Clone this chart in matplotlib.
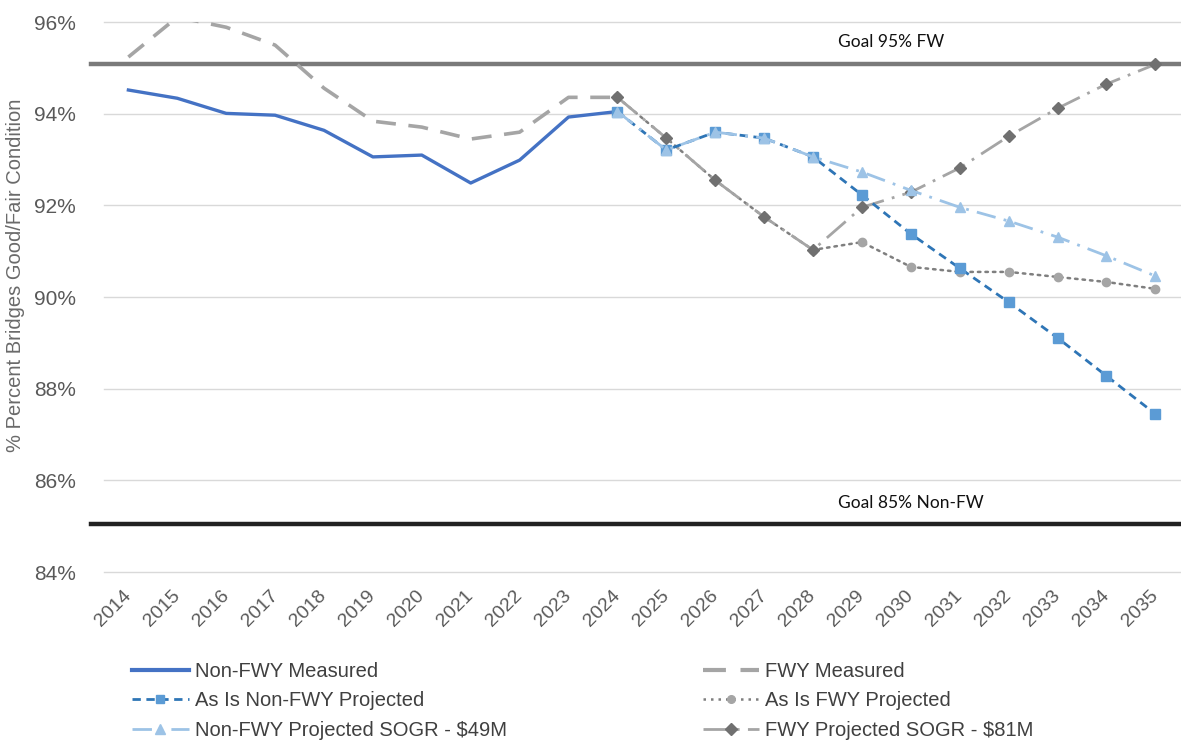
import matplotlib
matplotlib.use("Agg")
import matplotlib.pyplot as plt
from matplotlib.lines import Line2D
import numpy as np

years = [str(y) for y in range(2014, 2036)]
measured_years = years[:11]           # 2014 - 2024
proj_years = years[10:]               # 2024 - 2035

nonfwy_measured = [94.52, 94.34, 94.01, 93.97, 93.64, 93.06, 93.10, 92.49, 92.99, 93.93, 94.05]
fwy_measured = [95.24, 96.11, 95.89, 95.50, 94.56, 93.84, 93.71, 93.45, 93.60, 94.36, 94.36]

asis_nonfwy = [94.05, 93.21, 93.60, 93.47, 93.06, 92.23, 91.38, 90.63, 89.89, 89.11, 88.28, 87.45]
sogr_nonfwy = [94.05, 93.21, 93.60, 93.47, 93.06, 92.73, 92.33, 91.96, 91.66, 91.31, 90.90, 90.46]
asis_fwy = [94.36, 93.47, 92.55, 91.75, 91.03, 91.20, 90.66, 90.55, 90.55, 90.44, 90.33, 90.18]
sogr_fwy = [94.36, 93.47, 92.55, 91.75, 91.03, 91.96, 92.29, 92.82, 93.51, 94.12, 94.65, 95.08]

goal_fw = 95.08
goal_nonfw = 85.05
goal_labels = ["Goal 95% FW", "Goal 85% Non-FW"]

yticks = [84, 86, 88, 90, 92, 94, 96]

TICK_GREY = "#595959"
plt.rcParams["font.family"] = ["Liberation Sans", "DejaVu Sans"]

fig = plt.figure(figsize=(11.81, 7.40), dpi=100)
ax = fig.add_axes([0.088, 0.227, 0.911, 0.743])

xm = [years.index(y) for y in measured_years]
xp = [years.index(y) for y in proj_years]

'''
goal lines (drawn a bit past the left edge like the excel version)
'''
ax.axhline(goal_fw, xmin=-0.012, xmax=1, color="#7a7a7a", lw=3.2, clip_on=False, zorder=2)
ax.axhline(goal_nonfw, xmin=-0.012, xmax=1, color="#222222", lw=3.2, clip_on=False, zorder=2)

'''
measured
'''
ax.plot(xm, nonfwy_measured, "-", color="#4472C4", lw=2.4, zorder=5)
ax.plot(xm, fwy_measured, color="#A5A5A5", lw=2.6, ls=(0, (5.5, 3.5)), zorder=4)

'''
projections
'''
ax.plot(xp, asis_fwy, color="#7f7f7f", lw=1.8, ls=(0, (1, 2)), dash_capstyle="round",
        marker="o", ms=6, mfc="#A5A5A5", mec="#A5A5A5", zorder=5)
ax.plot(xp, sogr_fwy, color="#A5A5A5", lw=2.0, ls=(0, (9, 3, 1, 3)),
        marker="D", ms=6.5, mfc="#707070", mec="#707070", zorder=6)
ax.plot(xp, asis_nonfwy, color="#2E75B6", lw=2.0, ls=(0, (3, 2)),
        marker="s", ms=6.5, mfc="#5B9BD5", mec="#5B9BD5", zorder=7)
ax.plot(xp, sogr_nonfwy, color="#9DC3E6", lw=2.0, ls=(0, (7, 3, 1, 3)),
        marker="^", ms=7.5, mfc="#9DC3E6", mec="#9DC3E6", zorder=8)

ax.text(15.6, 95.56, goal_labels[0], ha="center", va="center", fontsize=12.5,
        family=["Lato", "DejaVu Sans"], color="#111111")
ax.text(16.0, 85.5, goal_labels[1], ha="center", va="center", fontsize=12.5,
        family=["Lato", "DejaVu Sans"], color="#111111")

ax.set_xlim(-0.5, len(years) - 0.5)
ax.set_ylim(84, 96)
ax.set_yticks(yticks)
ax.set_yticklabels(["{}%".format(t) for t in yticks], fontsize=15, color=TICK_GREY)
ax.set_xticks(range(len(years)))
ax.set_xticklabels(years, rotation=45, ha="right", va="center", rotation_mode="anchor",
                   fontsize=14, color=TICK_GREY)
ax.tick_params(axis="y", length=0, pad=20)
ax.tick_params(axis="x", length=0, pad=15)
ax.grid(axis="y", color="#D9D9D9", lw=1)
for gl in ax.get_ygridlines():
    gl.set_clip_on(False)       # keep the 84% / 96% lines whole
ax.set_axisbelow(True)
for s in ax.spines.values():
    s.set_visible(False)

fig.text(0.013, 0.628, "% Percent Bridges Good/Fair Condition", rotation=90,
         ha="center", va="center", fontsize=14.5, color="#6a6a6a")

legend = [
    Line2D([0], [0], color="#4472C4", lw=3, label="Non-FWY Measured"),
    Line2D([0], [0], color="#2E75B6", lw=2, ls=(0, (3, 2)), marker="s", ms=6,
           mfc="#5B9BD5", mec="#5B9BD5", label="As Is Non-FWY Projected"),
    Line2D([0], [0], color="#9DC3E6", lw=2, ls=(0, (7, 3, 1, 3)), marker="^", ms=7,
           mfc="#9DC3E6", mec="#9DC3E6", label="Non-FWY Projected SOGR - $49M"),
    Line2D([0], [0], color="#A5A5A5", lw=3, ls=(0, (5.5, 3.5)), label="FWY Measured"),
    Line2D([0], [0], color="#7f7f7f", lw=1.8, ls=(0, (1, 2)), marker="o", ms=5.5,
           mfc="#A5A5A5", mec="#A5A5A5", label="As Is FWY Projected"),
    Line2D([0], [0], color="#A5A5A5", lw=2, ls=(0, (9, 3, 1, 3)), marker="D", ms=6,
           mfc="#707070", mec="#707070", label="FWY Projected SOGR - $81M"),
]
fig.legend(handles=legend, ncol=2, loc="upper left", bbox_to_anchor=(0.112, 0.106),
           frameon=False, fontsize=14.5, handlelength=2.8, handletextpad=0.3,
           columnspacing=9.75, labelspacing=0.53, borderpad=0, borderaxespad=0,
           labelcolor="#404040")

fig.savefig("out.png", dpi=100)
